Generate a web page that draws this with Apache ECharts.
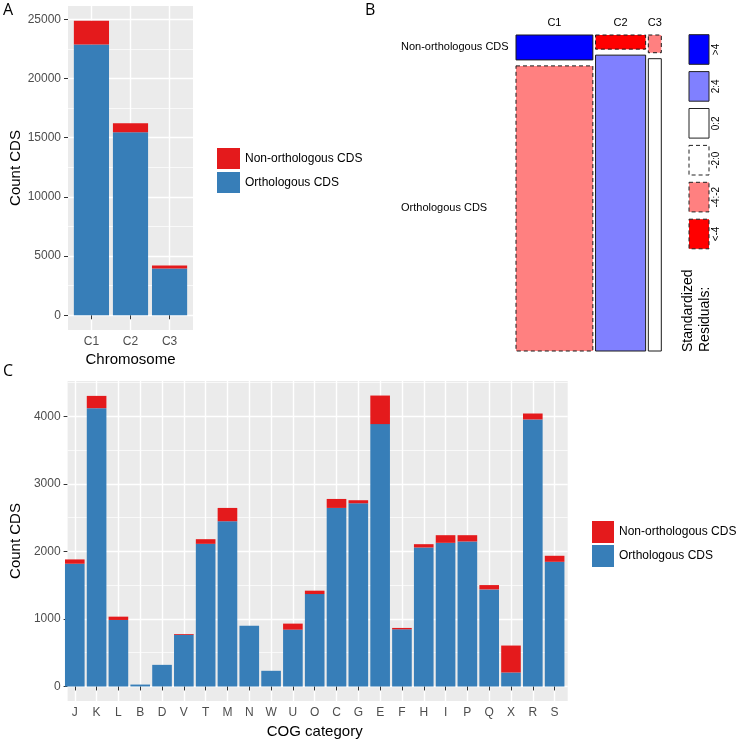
<!DOCTYPE html>
<html><head><meta charset="utf-8">
<script src="https://cdn.jsdelivr.net/npm/echarts@6/dist/echarts.min.js"></script>
<style>html,body{margin:0;padding:0;background:#fff}#c{width:737px;height:741px}</style>
</head><body><div id="c"></div>
<script>
// ---------------- data ----------------
const chromosomes = ['C1', 'C2', 'C3'];
const chrOrthologous = [22880, 15470, 3960];
const chrNonOrthologous = [2000, 740, 240];
const chrTicks = [0, 5000, 10000, 15000, 20000, 25000];
const chrMinorTicks = [2500, 7500, 12500, 17500, 22500];

const cogCategories = ['J','K','L','B','D','V','T','M','N','W','U','O','C','G','E','F','H','I','P','Q','X','R','S'];
const cogOrthologous = [1818, 4123, 985, 28, 320, 765, 2113, 2448, 901, 232, 842, 1369, 2645, 2714, 3887, 847, 2059, 2128, 2148, 1438, 207, 3956, 1847];
const cogNonOrthologous = [64, 182, 49, 0, 0, 12, 69, 197, 0, 0, 89, 50, 133, 45, 423, 20, 49, 113, 93, 64, 399, 88, 89];
const cogTicks = [0, 1000, 2000, 3000, 4000];
const cogMinorTicks = [500, 1500, 2500, 3500, 4500];

const mosaicRows = ['Orthologous CDS', 'Non-orthologous CDS'];
const orthResidualClass = ['-4:-2', '2:4', '0:2'];
const nonOrthResidualClass = ['>4', '<-4', '-4:-2'];
const residualLegend = ['>4', '2:4', '0:2', '-2:0', '-4:-2', '<-4'];

const seriesNames = ['Non-orthologous CDS', 'Orthologous CDS'];

// ---------------- styles ----------------
const FONT = '"Liberation Sans", Arial, Helvetica, sans-serif';
const RED = '#E41A1C', BLUE = '#377EB8';
const residualStyle = {
  '>4':    {fill: '#0000FF', dashed: false},
  '2:4':   {fill: '#8080FF', dashed: false},
  '0:2':   {fill: '#FFFFFF', dashed: false},
  '-2:0':  {fill: '#FFFFFF', dashed: true},
  '-4:-2': {fill: '#FF8080', dashed: true},
  '<-4':   {fill: '#FF0000', dashed: true}
};

function stackMax(a, b) { return Math.max.apply(null, a.map((v, i) => v + b[i])); }
function expandedRange(a, b) { const m = stackMax(a, b); return [-0.05 * m, 1.05 * m]; }
function innerRect(p, n) {
  const unit = p.width / (n - 1 + 1.2);
  return {left: p.left + 0.6 * unit, top: p.top, width: (n - 1) * unit, height: p.height, barWidth: 0.9 * unit};
}
const panelA = {left: 68, top: 6, width: 125, height: 324};
const panelC = {left: 61.7, top: 381, width: 506, height: 320};
const innerA = innerRect(panelA, chromosomes.length);
const innerC = innerRect(panelC, cogCategories.length);
const rangeA = expandedRange(chrOrthologous, chrNonOrthologous);
const rangeC = expandedRange(cogOrthologous, cogNonOrthologous);

function gridLines(major, minor) {
  return major.map(v => ({yAxis: v, lineStyle: {color: '#FFFFFF', width: 1.4, type: 'solid'}}))
    .concat(minor.map(v => ({yAxis: v, lineStyle: {color: '#FFFFFF', width: 0.7, type: 'solid'}})));
}

// ---------------- mosaic cells ----------------
const mosaicGap = 0.0193;
const colTotals = chromosomes.map((c, i) => chrOrthologous[i] + chrNonOrthologous[i]);
const grandTotal = colTotals.reduce((s, v) => s + v, 0);
const gapUnits = grandTotal * mosaicGap;
const mosaicCells = [];
(function () {
  let cum = 0;
  colTotals.forEach((t, i) => {
    const x0 = cum + i * gapUnits, x1 = x0 + t;
    const pNon = chrNonOrthologous[i] / t;
    mosaicCells.push({col: i, row: 0, x0: x0, x1: x1, y0: 0, y1: 1 - pNon, cls: orthResidualClass[i]});
    mosaicCells.push({col: i, row: 1, x0: x0, x1: x1, y0: 1 - pNon + mosaicGap, y1: 1 + mosaicGap, cls: nonOrthResidualClass[i]});
    cum += t;
  });
})();
const mosaicMaxX = grandTotal + gapUnits * (chromosomes.length - 1);

// ---------------- axes helpers ----------------
function outerY(gridIndex, range, ticks, nameGap) {
  return {
    type: 'value', gridIndex: gridIndex, min: range[0], max: range[1],
    axisLine: {show: false},
    axisTick: {show: true, length: 4, customValues: ticks, lineStyle: {color: '#333333', width: 1}},
    axisLabel: {customValues: ticks, color: '#4D4D4D', fontSize: 12, fontFamily: FONT, margin: 7,
      formatter: v => (ticks.indexOf(v) >= 0 ? String(v) : '')},
    splitLine: {show: false},
    name: 'Count CDS', nameLocation: 'middle', nameGap: nameGap, nameRotate: 90,
    nameTextStyle: {fontSize: 15, color: '#000', fontFamily: FONT}
  };
}
function innerX(gridIndex, cats, name, nameGap) {
  return {
    type: 'category', gridIndex: gridIndex, data: cats, boundaryGap: false, z: 1,
    axisLine: {show: false},
    axisTick: {show: true, length: 4, lineStyle: {color: '#333333', width: 1}},
    axisLabel: {color: '#4D4D4D', fontSize: 12, fontFamily: FONT, margin: 6, interval: 0},
    splitLine: {show: true, lineStyle: {color: '#FFFFFF', width: 1.4}},
    name: name, nameLocation: 'middle', nameGap: nameGap,
    nameTextStyle: {fontSize: 15, color: '#000', fontFamily: FONT}
  };
}

// ---------------- graphic (panel letters, mosaic legend) ----------------
const graphics = [
  {type: 'text', x: 3, y: 2, style: {text: 'A', font: '16px "Open Sans", sans-serif', fill: '#000'}},
  {type: 'text', x: 365, y: 2, style: {text: 'B', font: '16px "Open Sans", sans-serif', fill: '#000'}},
  {type: 'text', x: 3, y: 363, style: {text: 'C', font: '16px "Open Sans", sans-serif', fill: '#000'}}
];
residualLegend.forEach((cls, k) => {
  const s = residualStyle[cls];
  const y = 34.7 + k * 36.9;
  graphics.push({type: 'rect', shape: {x: 689, y: y, width: 20, height: 29.6},
    style: {fill: s.fill, stroke: '#222', lineWidth: 1, lineDash: s.dashed ? [4, 3] : null}});
  graphics.push({type: 'text', x: 716, y: y + 14.8, rotation: Math.PI / 2,
    style: {text: cls, font: '10px ' + FONT, fill: '#000', align: 'center', verticalAlign: 'middle',
      textAlign: 'center', textVerticalAlign: 'middle'}});
});
graphics.push({type: 'text', x: 697, y: 352, rotation: Math.PI / 2,
  style: {text: 'Standardized\nResiduals:', font: '14px ' + FONT, fill: '#000', lineHeight: 17,
    align: 'left', verticalAlign: 'middle', textAlign: 'left', textVerticalAlign: 'middle'}});

// ---------------- option ----------------
const markLineBase = {symbol: ['none', 'none'], silent: true, z: 1, label: {show: false}, emphasis: {disabled: true}};
const option = {
  animation: false,
  backgroundColor: '#FFFFFF',
  textStyle: {fontFamily: FONT},
  grid: [
    {left: panelA.left, top: panelA.top, width: panelA.width, height: panelA.height, show: true, backgroundColor: '#EBEBEB', borderWidth: 0, z: 0},
    {left: innerA.left, top: innerA.top, width: innerA.width, height: innerA.height, show: false},
    {left: 516, top: 35, width: 145.3, height: 316, show: false},
    {left: panelC.left, top: panelC.top, width: panelC.width, height: panelC.height, show: true, backgroundColor: '#EBEBEB', borderWidth: 0, z: 0},
    {left: innerC.left, top: innerC.top, width: innerC.width, height: innerC.height, show: false}
  ],
  xAxis: [
    {type: 'value', gridIndex: 0, min: 0, max: 1, show: false},
    innerX(1, chromosomes, 'Chromosome', 22),
    {type: 'value', gridIndex: 2, min: 0, max: mosaicMaxX, show: false},
    {type: 'value', gridIndex: 3, min: 0, max: 1, show: false},
    innerX(4, cogCategories, 'COG category', 23)
  ],
  yAxis: [
    outerY(0, rangeA, chrTicks, 45),
    {type: 'value', gridIndex: 1, min: rangeA[0], max: rangeA[1], show: false},
    {type: 'value', gridIndex: 2, min: 0, max: 1 + mosaicGap, show: false},
    outerY(3, rangeC, cogTicks, 39),
    {type: 'value', gridIndex: 4, min: rangeC[0], max: rangeC[1], show: false}
  ],
  legend: [
    {orient: 'vertical', left: 212, top: 143, itemWidth: 23, itemHeight: 21, itemGap: 3, icon: 'rect',
      data: seriesNames, textStyle: {fontSize: 12, color: '#000', fontFamily: FONT}, selectedMode: false},
    {orient: 'vertical', left: 587, top: 516, itemWidth: 22, itemHeight: 22, itemGap: 2, icon: 'rect',
      data: seriesNames, textStyle: {fontSize: 12, color: '#000', fontFamily: FONT}, selectedMode: false}
  ],
  graphic: {elements: graphics},
  series: [
    {type: 'line', xAxisIndex: 0, yAxisIndex: 0, data: [], z: 1, silent: true,
      markLine: Object.assign({data: gridLines(chrTicks, chrMinorTicks)}, markLineBase)},
    {type: 'bar', name: 'Orthologous CDS', xAxisIndex: 1, yAxisIndex: 1, stack: 'A', data: chrOrthologous,
      barWidth: innerA.barWidth, itemStyle: {color: BLUE}, z: 3, clip: false},
    {type: 'bar', name: 'Non-orthologous CDS', xAxisIndex: 1, yAxisIndex: 1, stack: 'A', data: chrNonOrthologous,
      barWidth: innerA.barWidth, itemStyle: {color: RED}, z: 3, clip: false},
    {type: 'custom', name: 'mosaic', xAxisIndex: 2, yAxisIndex: 2,
      data: mosaicCells.map(c => [c.x0, c.y0, c.x1, c.y1]),
      encode: {x: [0, 2], y: [1, 3]}, clip: false,
      renderItem: function (params, api) {
        const c = mosaicCells[params.dataIndex];
        const tl = api.coord([c.x0, c.y1]);
        const br = api.coord([c.x1, c.y0]);
        const s = residualStyle[c.cls];
        const children = [{type: 'rect', shape: {x: tl[0], y: tl[1], width: br[0] - tl[0], height: br[1] - tl[1]},
          style: {fill: s.fill, stroke: '#1a1a1a', lineWidth: 1, lineDash: s.dashed ? [4, 3] : null}}];
        if (c.row === 1) {
          children.push({type: 'text', x: (tl[0] + br[0]) / 2, y: tl[1] - 12,
            style: {text: chromosomes[c.col], font: '11px ' + FONT, fill: '#000', align: 'center', verticalAlign: 'middle',
              textAlign: 'center', textVerticalAlign: 'middle'}});
        }
        if (c.col === 0) {
          children.push({type: 'text', x: tl[0] - 115, y: (tl[1] + br[1]) / 2,
            style: {text: mosaicRows[c.row], font: '11px ' + FONT, fill: '#000', align: 'left', verticalAlign: 'middle',
              textAlign: 'left', textVerticalAlign: 'middle'}});
        }
        return {type: 'group', children: children};
      }},
    {type: 'line', xAxisIndex: 3, yAxisIndex: 3, data: [], z: 1, silent: true,
      markLine: Object.assign({data: gridLines(cogTicks, cogMinorTicks)}, markLineBase)},
    {type: 'bar', name: 'Orthologous CDS', xAxisIndex: 4, yAxisIndex: 4, stack: 'C', data: cogOrthologous,
      barWidth: innerC.barWidth, itemStyle: {color: BLUE}, z: 3, clip: false},
    {type: 'bar', name: 'Non-orthologous CDS', xAxisIndex: 4, yAxisIndex: 4, stack: 'C', data: cogNonOrthologous,
      barWidth: innerC.barWidth, itemStyle: {color: RED}, z: 3, clip: false}
  ]
};
const chart = echarts.init(document.getElementById('c'));
chart.setOption(option);
</script>
</body></html>
